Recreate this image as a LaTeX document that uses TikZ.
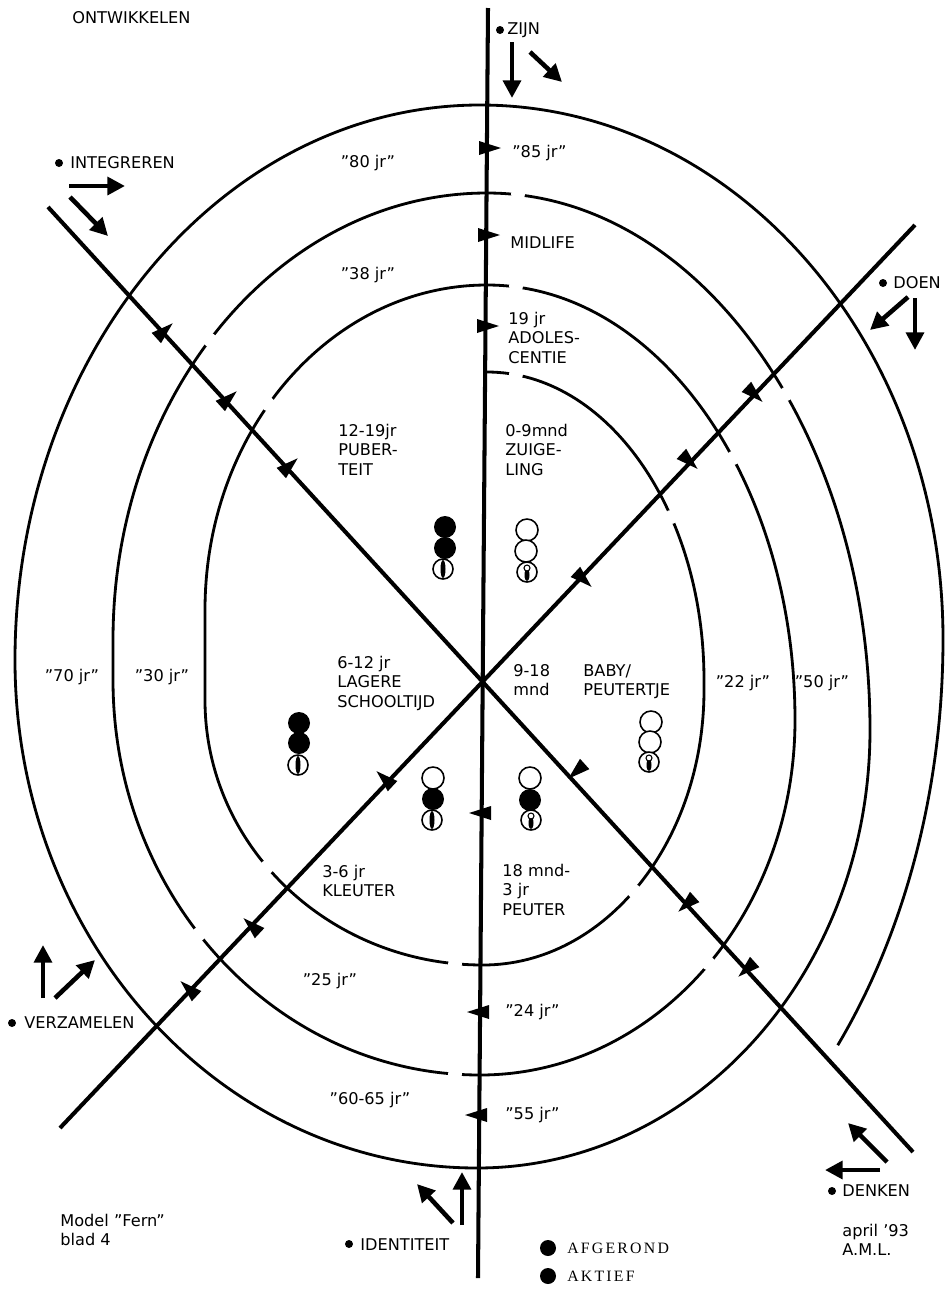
\documentclass[tikz,border=0pt]{standalone}
\usepackage{fontspec}
\setmainfont{DejaVu Sans}
\newfontfamily\legfont[LetterSpace=14]{Liberation Serif}
\usetikzlibrary{arrows.meta}

\tikzset{
  lbl/.style={font=\fontsize{9.2}{11}\selectfont, inner sep=0, align=left},
  axis/.style={line width=2.3pt},
  ring/.style={line width=1.6pt},
  dir/.style={line width=2.6pt, -{Triangle[length=10pt, width=10pt]}},
  vol/.style={fill=black},
  leeg/.style={draw, line width=0.9pt, fill=white},
}
% pijltje dwars op een as
\newcommand{\flag}[3]{\fill[shift={(#1,#2)}, rotate=#3] (-9,-7) -- (13,0) -- (-9,7) -- cycle;}
% onderbreking in de spiraal
\newcommand{\gat}[2]{\fill[white] (#1,#2) circle (7);}
% onderste bolletje met streep
\newcommand{\streep}[2]{\draw[leeg] (#1,#2) circle (10); \fill (#1,#2) ellipse [x radius=2.5, y radius=9];}
\newcommand{\streepo}[2]{\draw[leeg] (#1,#2) circle (10); \fill (#1,{#2+3}) ellipse [x radius=2.5, y radius=6]; \draw[line width=0.6pt, fill=white] (#1,{#2-4}) circle (3);}

\begin{document}
\begin{tikzpicture}[x=0.02cm, y=-0.02cm]
\useasboundingbox (0,0) rectangle (946,1289);

% spiraal, per kwart een ellipsboog
\draw[ring] (487,372)
  arc[start angle=-90, end angle=0, x radius=217, y radius=308] -- (704,690)
  arc[start angle=0, end angle=90, x radius=221, y radius=275]
  arc[start angle=90, end angle=180, x radius=278, y radius=265] -- (205,610)
  arc[start angle=180, end angle=270, x radius=282, y radius=325]
  % tweede omloop
  arc[start angle=-90, end angle=0, x radius=308, y radius=435]
  arc[start angle=0, end angle=90, x radius=315, y radius=355]
  arc[start angle=90, end angle=180, x radius=367, y radius=395] -- (113,640)
  arc[start angle=180, end angle=270, x radius=374, y radius=447]
  % derde omloop
  arc[start angle=-90, end angle=0, x radius=383, y radius=537]
  arc[start angle=0, end angle=90, x radius=393, y radius=438]
  arc[start angle=90, end angle=180, x radius=462, y radius=508]
  arc[start angle=180, end angle=270, x radius=465, y radius=555]
  % laatste stuk
  arc[start angle=-90, end angle=0, x radius=463, y radius=534]
  arc[start angle=0, end angle=39.4, x radius=463, y radius=640];

% onderbrekingen
\gat{516}{374} \gat{516}{286} \gat{518}{194}
\gat{671}{517} \gat{733}{458} \gat{786}{394}
\gat{634}{891} \gat{708}{963}
\gat{455}{964} \gat{455}{1074}
\gat{267}{867} \gat{199}{934}
\gat{268}{404} \gat{210}{340}

% assen
\coordinate (zijn) at (488,8);
\coordinate (ident) at (478,1278);
\coordinate (integ) at (48,207);
\coordinate (denk) at (913,1152);
\coordinate (doen) at (915,225);
\coordinate (verz) at (60,1128);
\draw[axis] (zijn) -- (ident);
\draw[axis] (integ) -- (denk);
\draw[axis] (doen) -- (verz);

% pijltjes op de assen
\flag{488}{148}{0}  \flag{487}{235}{0}  \flag{486}{326}{0}
\flag{482}{813}{180} \flag{480}{1012}{180} \flag{478}{1115}{180}
\flag{163}{332}{42} \flag{227}{400}{42} \flag{288}{467}{42}
\flag{753}{393}{-43} \flag{688}{460}{-43} \flag{582}{578}{-43}
\flag{578}{770}{222} \flag{688}{903}{222} \flag{748}{968}{222}
\flag{386}{780}{137} \flag{253}{927}{137} \flag{190}{990}{137}

% bolletjes
\fill[vol] (445,527) circle (11); \fill[vol] (445,548) circle (11); \streep{443}{569}
\draw[leeg] (527,530) circle (11); \draw[leeg] (526,551) circle (11); \streepo{527}{572}
\fill[vol] (299,723) circle (11); \fill[vol] (299,743) circle (11); \streep{298}{765}
\draw[leeg] (651,722) circle (11); \draw[leeg] (650,742) circle (11); \streepo{649}{762}
\draw[leeg] (433,778) circle (11); \fill[vol] (433,799) circle (11); \streep{432}{820}
\draw[leeg] (530,778) circle (11); \fill[vol] (530,800) circle (11); \streepo{531}{820}

% hoofdrichtingen
\node[lbl, anchor=west] (ontw) at (72,18) {ONTWIKKELEN};
\node[lbl, anchor=west] (zijnt) at (507,30) {ZIJN};
\fill (500,30) circle (4);
\draw[dir] (512,42) -- (512,98);
\draw[dir] (530,52) -- (562,82);
\node[lbl, anchor=west] (integt) at (70,163) {INTEGREREN};
\fill (59,163) circle (4);
\draw[dir] (69,186) -- (125,186);
\draw[dir] (70,197) -- (108,236);
\node[lbl, anchor=west] (doent) at (893,283) {DOEN};
\fill (883,283) circle (4);
\draw[dir] (908,297) -- (870,330);
\draw[dir] (915,298) -- (915,350);
\node[lbl, anchor=west] (verzt) at (24,1023) {VERZAMELEN};
\fill (12,1023) circle (4);
\draw[dir] (43,998) -- (43,945);
\draw[dir] (55,998) -- (95,960);
\node[lbl, anchor=west] (denkt) at (842,1191) {DENKEN};
\fill (832,1191) circle (4);
\draw[dir] (880,1170) -- (825,1170);
\draw[dir] (887,1162) -- (848,1123);
\node[lbl, anchor=west] (identt) at (360,1245) {IDENTITEIT};
\fill (349,1244) circle (4);
\draw[dir] (462,1225) -- (462,1172);
\draw[dir] (453,1223) -- (417,1184);

% leeftijden
\node[lbl] (j80) at (368,163) {\symbol{34}80 jr\symbol{34}};
\node[lbl, anchor=west] (j85) at (512,153) {\symbol{34}85 jr\symbol{34}};
\node[lbl, anchor=west] (mid) at (510,243) {MIDLIFE};
\node[lbl] (j38) at (368,275) {\symbol{34}38 jr\symbol{34}};
\node[lbl, anchor=north west] (j19) at (508,312) {19 jr\\ADOLES-\\CENTIE};
\node[lbl, anchor=north west] (pub) at (338,424) {12-19jr\\PUBER-\\TEIT};
\node[lbl, anchor=north west] (zuig) at (505,424) {0-9mnd\\ZUIGE-\\LING};
\node[lbl, anchor=north west] (lag) at (337,656) {6-12 jr\\LAGERE\\SCHOOLTIJD};
\node[lbl, anchor=north west] (mnd) at (513,664) {9-18\\mnd};
\node[lbl, anchor=north west] (baby) at (583,664) {BABY/\\PEUTERTJE};
\node[lbl] (j70) at (72,677) {\symbol{34}70 jr\symbol{34}};
\node[lbl] (j30) at (162,677) {\symbol{34}30 jr\symbol{34}};
\node[lbl] (j22) at (743,683) {\symbol{34}22 jr\symbol{34}};
\node[lbl] (j50) at (822,683) {\symbol{34}50 jr\symbol{34}};
\node[lbl, anchor=north west] (kleu) at (322,865) {3-6 jr\\KLEUTER};
\node[lbl, anchor=north west] (peut) at (502,864) {18 mnd-\\3 jr\\PEUTER};
\node[lbl] (j25) at (330,981) {\symbol{34}25 jr\symbol{34}};
\node[lbl, anchor=west] (j24) at (505,1012) {\symbol{34}24 jr\symbol{34}};
\node[lbl] (j60) at (370,1100) {\symbol{34}60-65 jr\symbol{34}};
\node[lbl, anchor=west] (j55) at (505,1115) {\symbol{34}55 jr\symbol{34}};

% legenda
\fill (548,1248) circle (8);
\node[lbl, anchor=west, font=\legfont\small] (afg) at (567,1248) {AFGEROND};
\fill (548,1276) circle (8);
\node[lbl, anchor=west, font=\legfont\small] (akt) at (567,1276) {AKTIEF};
\node[lbl, anchor=north west] (model) at (60,1214) {Model \symbol{34}Fern\symbol{34}\\blad 4};
\node[lbl, anchor=north west] (datum) at (842,1224) {april '93\\A.M.L.};
\end{tikzpicture}
\end{document}
